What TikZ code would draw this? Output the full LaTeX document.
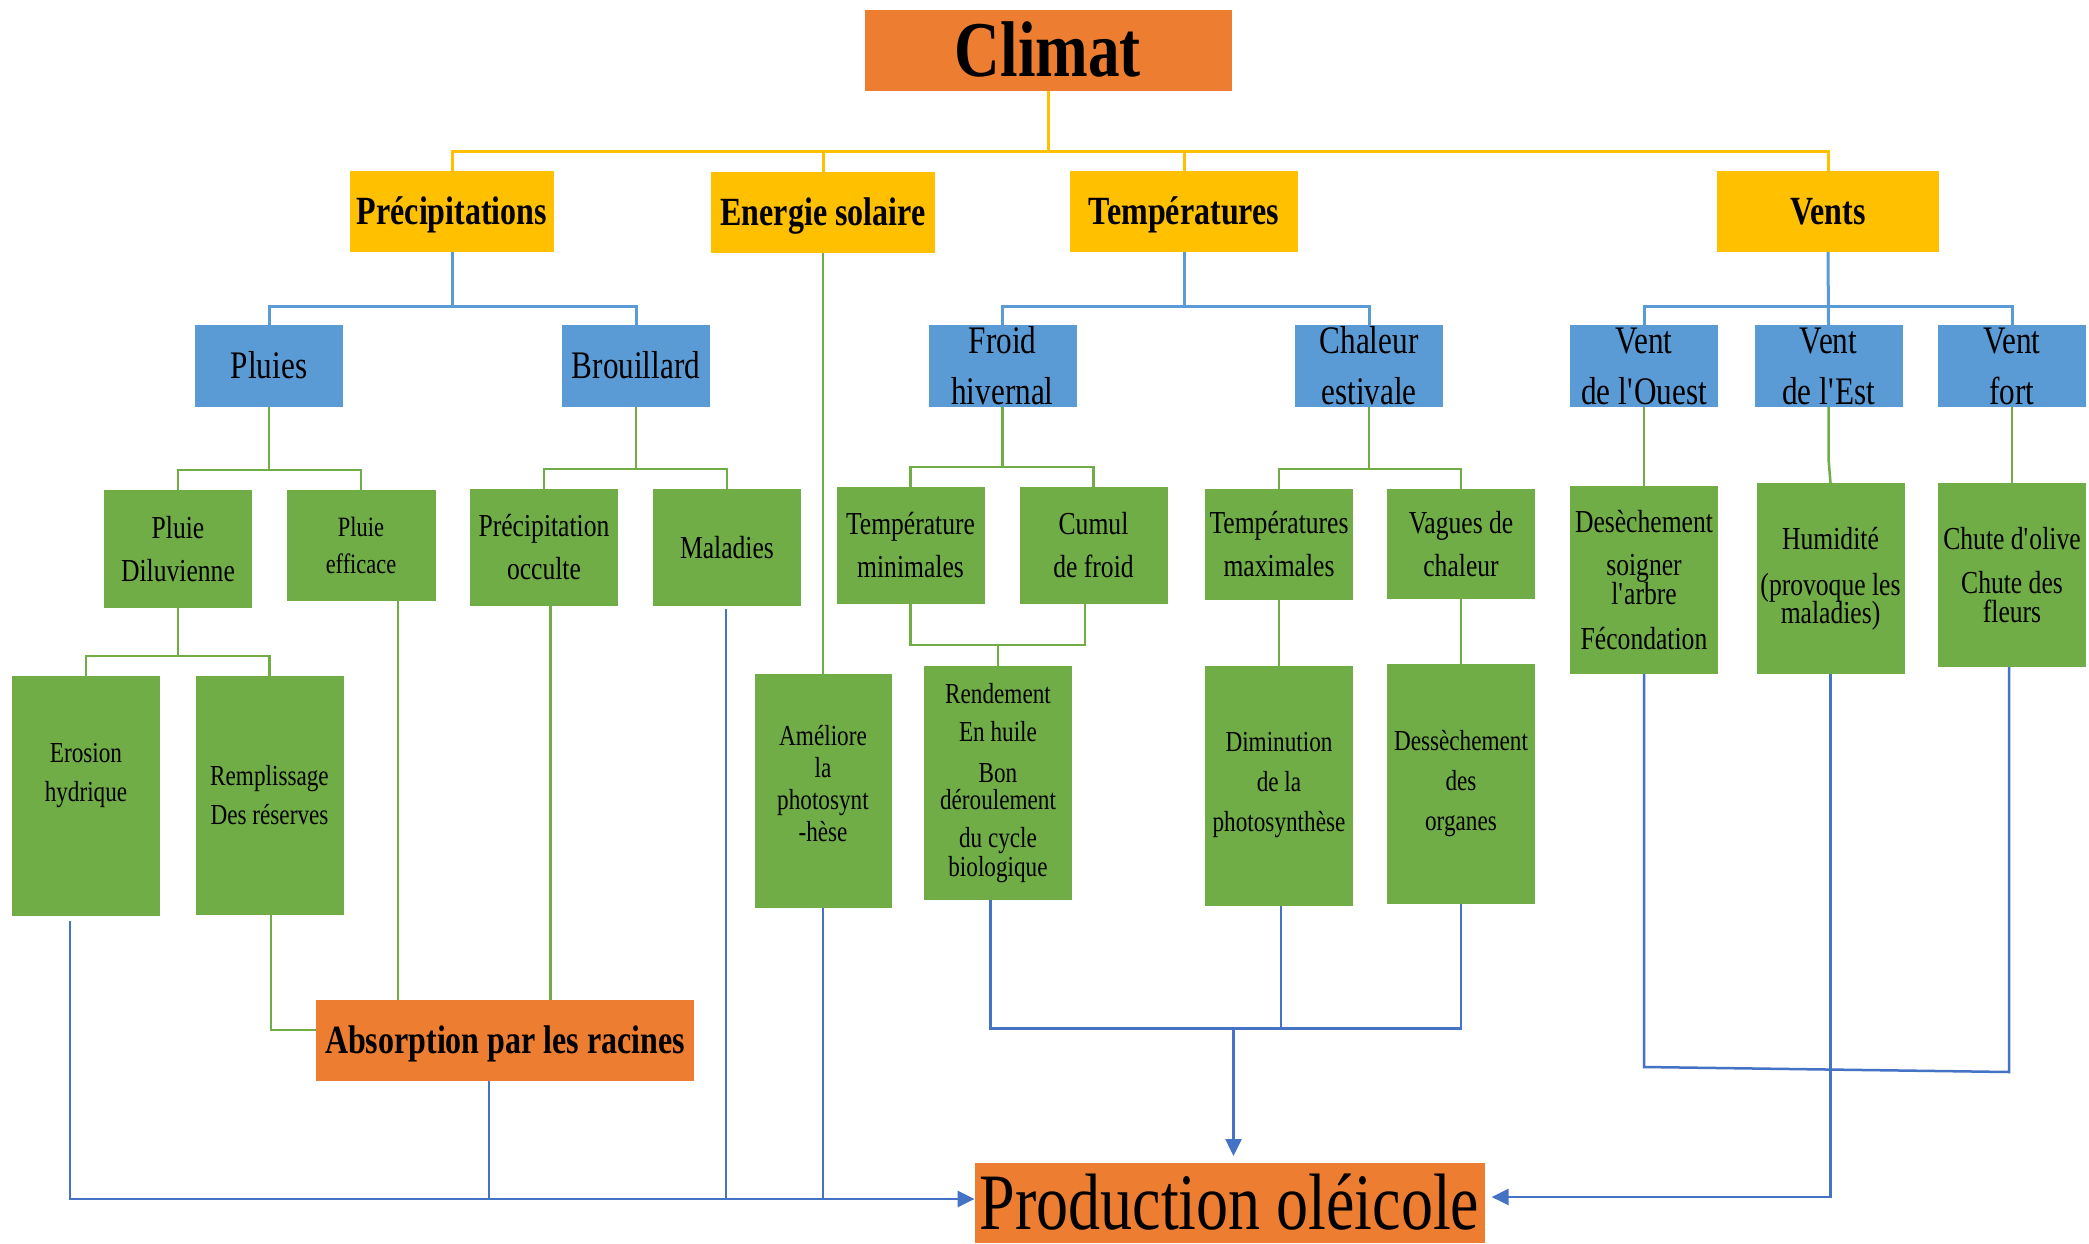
\documentclass[tikz,border=0pt]{standalone}
\usepackage{fontspec}
\setmainfont{Liberation Serif}[FakeStretch=0.8]
\usetikzlibrary{arrows.meta,calc}
\definecolor{corange}{HTML}{ED7D31}
\definecolor{cyellow}{HTML}{FFC000}
\definecolor{cblue}{HTML}{5B9BD5}
\definecolor{cgreen}{HTML}{70AD47}
\definecolor{cdblue}{HTML}{4472C4}
\begin{document}
\begin{tikzpicture}[x=1pt,y=-1pt,
  box/.style={inner sep=0pt, outer sep=0pt, align=center, text=black, draw=none},
  orangebox/.style={box, fill=corange},
  yelbox/.style={box, fill=cyellow, minimum height=81pt, font=\fontsize{40}{48}\selectfont\bfseries, text height=30pt, text depth=4pt},
  bluebox/.style={box, fill=cblue, minimum width=148pt, minimum height=82pt, font=\fontsize{39}{51}\selectfont},
  grnbox/.style={box, fill=cgreen, minimum width=148pt, font=\fontsize{32}{43}\selectfont},
  smallgrn/.style={box, fill=cgreen, minimum width=148pt, font=\fontsize{29}{39}\selectfont},
  ylin/.style={draw=cyellow, line width=3pt},
  blin/.style={draw=cblue, line width=3pt},
  glin/.style={draw=cgreen, line width=2.5pt},
  dlin/.style={draw=cdblue, line width=2.5pt},
  arr/.style={-{Triangle[length=17pt,width=16pt]}}
]
\fill[white] (0,0) rectangle (2089,1243);
\useasboundingbox (0,0) rectangle (2089,1243);

% Root
\node[orangebox, minimum width=367pt, minimum height=81pt, font=\fontsize{79}{92}\selectfont\bfseries, text height=59pt, text depth=7pt] (climat) at (1048,50.5) {Climat};

% Level 1
\node[yelbox, minimum width=204pt] (prec) at (452,211.5) {Précipitations};
\node[yelbox, minimum width=224pt] (ener) at (823,212.5) {Energie solaire};
\node[yelbox, minimum width=228pt] (temp) at (1184,211.5) {Températures};
\node[yelbox, minimum width=222pt] (vents) at (1828,211.5) {Vents};

% Level 2
\node[bluebox, text height=29pt, text depth=4pt] (pluies) at (269,366) {Pluies};
\node[bluebox, text height=29pt, text depth=4pt] (brou) at (636,366) {Brouillard};
\node[bluebox] (froid) at (1002.5,366) {Froid\\hivernal};
\node[bluebox] (chal) at (1369,366) {Chaleur\\estivale};
\node[bluebox] (vouest) at (1644,366) {Vent\\de l\textquotesingle Ouest};
\node[bluebox] (vest) at (1828.5,366) {Vent\\de l\textquotesingle Est};
\node[bluebox] (vfort) at (2012,366) {Vent\\fort};

% Level 3
\node[grnbox, minimum height=118pt] (pdil) at (178,549) {Pluie\\Diluvienne};
\node[grnbox, minimum width=149pt, minimum height=111pt, font=\fontsize{28}{37}\selectfont] (peff) at (361,545.5) {Pluie\\efficace};
\node[grnbox, minimum height=117pt] (pocc) at (544,547.5) {Précipitation\\occulte};
\node[grnbox, minimum height=117pt, text height=24pt, text depth=3pt] (mal) at (727,547.5) {Maladies};
\node[grnbox, minimum height=117pt] (tmin) at (910.5,545.5) {Température\\minimales};
\node[grnbox, minimum height=117pt] (cumul) at (1093.5,545.5) {Cumul\\de froid};
\node[grnbox, minimum height=111pt] (tmax) at (1279,544.5) {Températures\\maximales};
\node[grnbox, minimum height=110pt] (vag) at (1461,544) {Vagues de\\chaleur};
\node[grnbox, minimum height=188pt] (desv) at (1644,580) {Desèchement\\soigner\\[-14pt]l\textquotesingle arbre\\[2pt]Fécondation};
\node[grnbox, minimum height=191pt] (hum) at (1830.5,578.5) {Humidité\\[3pt](provoque les\\[-15pt]maladies)};
\node[grnbox, minimum height=184pt] (chute) at (2012,575) {Chute d\textquotesingle olive\\[1pt]Chute des\\[-14pt]fleurs};

% Level 4
\node[smallgrn, minimum height=240pt] (ero) at (86,796) {Erosion\\hydrique\\[8pt]\mbox{}};
\node[smallgrn, minimum height=239pt] (remp) at (269.5,795) {Remplissage\\Des réserves};
\node[smallgrn, minimum width=137pt, minimum height=234pt, font=\fontsize{29}{32}\selectfont] (amel) at (823,791) {Améliore\\la\\photosynt\\-hèse\\[-16pt]\mbox{}};
\node[smallgrn, minimum height=234pt, font=\fontsize{29}{38}\selectfont] (rend) at (998,783) {Rendement\\En huile\\[3pt]Bon\\[-11pt]déroulement\\du cycle\\[-9pt]biologique};
\node[smallgrn, minimum height=240pt, font=\fontsize{29}{40}\selectfont] (dim) at (1279,785.5) {Diminution\\de la\\photosynthèse};
\node[smallgrn, minimum height=240pt, font=\fontsize{29}{40}\selectfont] (dess) at (1461,783.5) {Dessèchement\\des\\organes};

% Absorption & Production
\node[orangebox, minimum width=378pt, minimum height=81pt, font=\fontsize{40}{48}\selectfont\bfseries, text height=30pt, text depth=4pt] (abso) at (505,1040) {Absorption par les racines};
\node[orangebox, minimum width=510pt, minimum height=80pt, font=\fontsize{80}{92}\selectfont, text height=60pt, text depth=7pt] (prod) at (1229.6,1203) {Production oléicole};

% Yellow connectors
\coordinate (yb) at (1048,151);
\draw[ylin] (climat.south) -- (yb);
\draw[ylin] (prec.north) -- (prec.north |- yb) -- (vents.north |- yb) -- (vents.north);
\draw[ylin] (ener.north) -- (ener.north |- yb);
\draw[ylin] (temp.north) -- (temp.north |- yb);

% Blue connectors
\coordinate (bp) at (452,306);
\draw[blin] (prec.south) -- (bp);
\draw[blin] (pluies.north) |- (bp) -| (brou.north);
\coordinate (bt) at (temp.south |- bp);
\draw[blin] (temp.south) -- (bt);
\draw[blin] (froid.north) |- (bt) -| (chal.north);
\coordinate (bv) at (vents.south |- bp);
\draw[blin] (vents.south) -- (vest.north);
\draw[blin] (vouest.north) |- (bv) -| (vfort.north);

% Green connectors level 2 -> 3
\coordinate (gp) at (269,470);
\draw[glin] (pluies.south) -- (gp);
\draw[glin] (pdil.north) |- (gp) -| (peff.north);
\coordinate (gb) at (636,469);
\draw[glin] (brou.south) -- (gb);
\draw[glin] (pocc.north) |- (gb) -| (mal.north);
\coordinate (gf) at (1002.5,467);
\draw[glin] (froid.south) -- (gf);
\draw[glin] (tmin.north) |- (gf) -| (cumul.north);
\coordinate (gc) at (1369,469);
\draw[glin] (chal.south) -- (gc);
\draw[glin] (tmax.north) |- (gc) -| (vag.north);
\draw[glin] (vouest.south) -- (desv.north);
\draw[glin] (vest.south) -- ++(0,52) -- (hum.north);
\draw[glin] (vfort.south) -- (chute.north);

% Green connectors level 3 -> 4
\coordinate (gd) at (178,656);
\draw[glin] (pdil.south) -- (gd);
\draw[glin] (ero.north) |- (gd) -| (remp.north);
\draw[glin] (ener.south) -- (amel.north);
\coordinate (gr) at (998,645);
\draw[glin] (tmin.south) |- (gr);
\draw[glin] ([xshift=-8.5pt]cumul.south) |- (gr);
\draw[glin] (gr) -- (rend.north);
\draw[glin] (tmax.south) -- (dim.north);
\draw[glin] (vag.south) -- (dess.north);

% Green connectors to Absorption
\draw[glin] ([xshift=1.5pt]remp.south) |- ([yshift=10pt]abso.west);
\coordinate (pe) at ([xshift=37pt]peff.south);
\draw[glin] (pe) -- (pe |- abso.north);
\coordinate (po) at ([xshift=6.5pt]pocc.south);
\draw[glin] (po) -- (po |- abso.north);

% Dark blue connectors to Production
\coordinate (by) at (0,1199);
\draw[dlin, arr] ([xshift=-16pt,yshift=-5pt]ero.south) |- ([yshift=4pt]prod.west);
\coordinate (ab) at ([xshift=-16pt]abso.south);
\draw[dlin] (ab) -- (ab |- by);
\coordinate (mb0) at ([xshift=-1pt,yshift=-3pt]mal.south);
\draw[dlin] (mb0) -- (mb0 |- by);
\draw[dlin] (amel.south) -- (amel.south |- by);

\coordinate (mb) at (1233.5,1028.5);
\draw[dlin] ([xshift=-7.5pt]rend.south) |- (mb);
\coordinate (dm) at ([xshift=2pt]dim.south);
\draw[dlin] (dm) -- (dm |- mb);
\draw[dlin] (dess.south) |- (mb);
\draw[dlin, arr] (mb) -- ($(mb |- prod.north)+(0,-7)$);

\draw[dlin] (desv.south) -- ($(desv.south)+(0,393)$) -- ($(chute.south)+(-3,405)$) -- ($(chute.south)+(-3,0)$);
\draw[dlin, arr] (hum.south) |- ([xshift=7pt,yshift=6pt]prod.east);
\end{tikzpicture}
\end{document}
